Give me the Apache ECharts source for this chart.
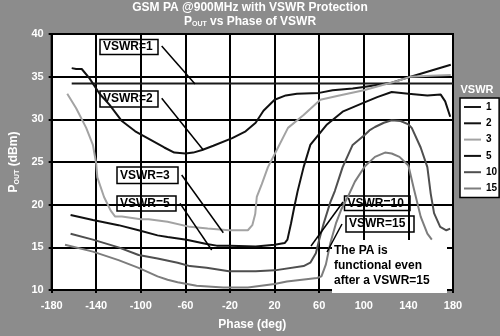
<!DOCTYPE html>
<html><head><meta charset="utf-8">
<script src="https://cdn.jsdelivr.net/npm/echarts@6/dist/echarts.min.js"></script>
<style>html,body{margin:0;padding:0;background:#8c8c8c;}#c{width:500px;height:336px;}</style>
</head><body><div id="c"></div>
<script>
// ---- data (phase in degrees, Pout in dBm) ----
const seriesNames = ['1', '2', '3', '5', '10', '15'];
const phaseTicks = [-180, -140, -100, -60, -20, 20, 60, 100, 140, 180];
const poutTicks = [10, 15, 20, 25, 30, 35, 40];

const vswr1Phase = [-162, -100, 0, 100, 180];
const vswr1Pout  = [34.2, 34.2, 34.2, 34.2, 34.2];

const vswr2Phase = [-162, -158, -153, -146, -137, -128, -117, -105, -94, -79, -70, -60, -53, -45, -35, -18, -6, 3, 10, 20, 30, 40, 60, 72, 90, 100, 110, 125, 142, 160, 178];
const vswr2Pout  = [36.0, 35.9, 35.9, 34.8, 33.0, 31.7, 29.8, 28.6, 27.8, 26.7, 26.1, 26.0, 26.1, 26.4, 26.9, 27.8, 28.6, 29.6, 31.0, 32.3, 32.8, 33.0, 33.1, 33.4, 33.6, 33.8, 34.0, 34.3, 35.0, 35.7, 36.4];

const vswr3Phase = [-166, -158, -149, -143, -140, -139, -133, -127, -123, -117, -100, -93, -76, -56, -40, -21, -4, 0, 2.6, 4, 8.5, 14, 20, 32, 46, 61, 78, 100, 116, 130, 142, 160, 178];
const vswr3Pout  = [33.0, 31.3, 29.0, 27.0, 24.8, 23.2, 20.9, 19.3, 18.6, 18.6, 18.3, 18.3, 18.0, 17.4, 17.2, 17.0, 17.0, 17.6, 18.9, 20.9, 22.4, 24.4, 25.9, 29.0, 30.5, 32.3, 32.8, 33.4, 34.0, 34.5, 35.0, 35.1, 35.2];

const vswr5Phase = [-163, -143, -120, -102, -85, -76, -59, -41, -32, -20, 3, 20, 29, 31.5, 34.7, 37.6, 40.5, 46, 52, 67, 81, 99, 112, 125, 140, 157, 169, 173, 177.5];
const vswr5Pout  = [18.8, 18.2, 17.6, 17.0, 16.4, 16.2, 15.9, 15.4, 15.2, 15.2, 15.1, 15.3, 15.5, 15.9, 17.8, 19.7, 21.5, 24.4, 27.0, 29.4, 30.9, 31.9, 32.6, 33.2, 33.0, 32.8, 32.9, 32.1, 30.3];

const vswr10Phase = [-163, -143, -120, -102, -85, -67, -56, -41, -21, 3, 20, 46, 52, 57, 60, 64, 70, 74, 78, 81, 90, 101, 105, 110, 118, 125, 133, 140, 143, 151, 157, 160, 163, 168.5, 174, 177.5];
const vswr10Pout  = [16.6, 15.9, 15.0, 14.1, 13.7, 13.2, 12.8, 12.6, 12.2, 12.2, 12.3, 12.8, 13.2, 14.3, 15.9, 17.8, 20.3, 21.6, 23.2, 24.4, 27.0, 28.2, 28.7, 29.1, 29.6, 29.9, 29.8, 29.4, 29.0, 26.7, 24.4, 21.3, 19.0, 17.4, 17.0, 17.2];

const vswr15Phase = [-168, -143, -120, -102, -85, -76, -67, -50, -26, -4, 20, 31, 58, 62, 66, 70, 75, 80, 86, 92, 101, 110, 119, 125, 132, 140, 145, 151, 157, 161];
const vswr15Pout  = [15.3, 14.5, 13.5, 12.6, 11.6, 11.2, 10.9, 10.5, 10.3, 10.3, 10.7, 11.0, 11.4, 11.6, 13.0, 15.5, 17.8, 19.5, 21.0, 22.7, 24.5, 25.6, 26.1, 26.0, 25.6, 24.6, 21.8, 18.6, 16.6, 15.9];

// ---- build ----
const FONT = "'Liberation Sans', Arial, sans-serif";
const PHASE_OFFSET = 180; // axis runs 0..360 so ticks start at a multiple of the interval
const phases = [vswr1Phase, vswr2Phase, vswr3Phase, vswr5Phase, vswr10Phase, vswr15Phase];
const pouts  = [vswr1Pout, vswr2Pout, vswr3Pout, vswr5Pout, vswr10Pout, vswr15Pout];
const colors = ['#1a1a1a', '#111111', '#a3a3a3', '#111111', '#4f4f4f', '#7d7d7d'];

const series = seriesNames.map((n, k) => ({
  name: n, type: 'line', symbol: 'none', showSymbol: false, z: 3,
  lineStyle: { color: colors[k], width: 2 },
  itemStyle: { color: colors[k] },
  data: phases[k].map((p, i) => [p + PHASE_OFFSET, pouts[k][i]])
}));

const labelStyle = { color: '#fff', fontSize: 11, fontWeight: 'bold', fontFamily: FONT };

function box(x, y, w, h, text) {
  return {
    type: 'group', z: 10, children: [
      { type: 'rect', shape: { x: x, y: y, width: w, height: h }, style: { fill: '#fff', stroke: '#000', lineWidth: 1.5 } },
      { type: 'text', x: x + 3, y: y + h / 2, style: { text: text, fill: '#000', font: 'bold 12px ' + FONT, verticalAlign: 'middle', align: 'left' } }
    ]
  };
}
function lead(x1, y1, x2, y2) {
  return { type: 'line', z: 10, shape: { x1, y1, x2, y2 }, style: { stroke: '#000', lineWidth: 1.5 } };
}

const option = {
  animation: false,
  backgroundColor: '#8c8c8c',
  grid: { left: 41, right: 47, top: 34, bottom: 42, show: true, backgroundColor: '#fff', borderColor: '#000', borderWidth: 2 },
  xAxis: {
    type: 'value', min: phaseTicks[0] + PHASE_OFFSET, max: phaseTicks[phaseTicks.length - 1] + PHASE_OFFSET, interval: 40,
    axisLine: { show: true, onZero: false, lineStyle: { color: '#000', width: 2 } },
    axisTick: { show: true, length: 3, lineStyle: { color: '#000', width: 2 } },
    axisLabel: Object.assign({ margin: 10, formatter: v => String(v - PHASE_OFFSET) }, labelStyle),
    splitLine: { show: true, lineStyle: { color: '#000', width: 2 } },
    name: 'Phase (deg)', nameLocation: 'middle', nameGap: 29,
    nameTextStyle: { color: '#fff', fontSize: 12, fontWeight: 'bold', fontFamily: FONT }
  },
  yAxis: {
    type: 'value', min: poutTicks[0], max: poutTicks[poutTicks.length - 1], interval: 5,
    axisLine: { show: true, lineStyle: { color: '#000', width: 2 } },
    axisTick: { show: true, length: 3, lineStyle: { color: '#000', width: 2 } },
    axisLabel: Object.assign({ margin: 8 }, labelStyle),
    splitLine: { show: true, lineStyle: { color: '#000', width: 2 } },
    name: '{a|P}{b|OUT}{a| (dBm)}', nameLocation: 'middle', nameGap: 28, nameRotate: 90,
    nameTextStyle: {
      rich: {
        a: { color: '#fff', fontSize: 12, fontWeight: 'bold', fontFamily: FONT },
        b: { color: '#fff', fontSize: 7, fontWeight: 'bold', fontFamily: FONT, padding: [6, 0, 0, 0] }
      }
    }
  },
  legend: {
    data: seriesNames, orient: 'vertical', left: 460, top: 98,
    itemWidth: 17, itemHeight: 10, itemGap: 6.3, padding: [4, 2, 4, 3],
    backgroundColor: '#fff', borderColor: '#000', borderWidth: 1.5,
    itemStyle: { opacity: 0 },
    textStyle: { color: '#000', fontSize: 10, fontWeight: 'bold', fontFamily: FONT }
  },
  graphic: [
    { type: 'text', x: 250, y: 8, style: { text: 'GSM PA @900MHz with VSWR Protection', fill: '#fff', font: 'bold 12px ' + FONT, align: 'center', verticalAlign: 'middle' } },
    { type: 'text', x: 250, y: 22, style: {
        text: '{a|P}{b|OUT}{a| vs Phase of VSWR}', align: 'center', verticalAlign: 'middle',
        rich: {
          a: { fill: '#fff', font: 'bold 12px ' + FONT },
          b: { fill: '#fff', font: 'bold 7px ' + FONT, padding: [5, 0, 0, 0] }
        } } },
    { type: 'text', x: 477, y: 90, style: { text: 'VSWR', fill: '#fff', font: 'bold 11px ' + FONT, align: 'center', verticalAlign: 'middle' } },
    box(100, 39.5, 58, 15, 'VSWR=1'),
    box(100, 91, 58, 16, 'VSWR=2'),
    box(117, 167, 61, 16.5, 'VSWR=3'),
    box(117, 196, 59, 15, 'VSWR=5'),
    box(344.5, 196, 65.5, 14.5, 'VSWR=10'),
    box(346, 216, 68, 16, 'VSWR=15'),
    lead(161.7, 46, 195, 84),
    lead(161.7, 98.3, 203.3, 150),
    lead(181.7, 175, 223.3, 232.7),
    lead(180, 203.3, 211.7, 250),
    lead(343, 202, 311, 246),
    lead(342, 224, 327, 252),
    { type: 'rect', z: 1, shape: { x: 332, y: 240, width: 115, height: 53 }, style: { fill: '#fff' } },
    { type: 'text', z: 10, x: 334, y: 243.5, style: {
        text: 'The PA is\nfunctional even\nafter a VSWR=15', fill: '#000', font: 'bold 12px ' + FONT,
        lineHeight: 15, align: 'left', verticalAlign: 'top' } }
  ],
  series: series
};

const chart = echarts.init(document.getElementById('c'), null, { renderer: 'canvas' });
chart.setOption(option);
</script></body></html>
